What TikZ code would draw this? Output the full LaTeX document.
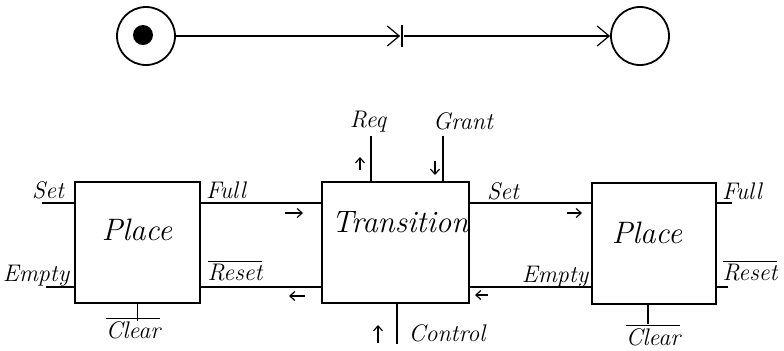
\documentclass[tikz,border=0pt]{standalone}
\usetikzlibrary{arrows.meta}

\tikzset{
  box/.style={draw, line width=1pt, inner sep=0pt},
  place/.style={circle, draw, line width=0.9pt, minimum size=29pt, inner sep=0pt},
  title/.style={font=\fontsize{15.5}{18}\selectfont\itshape},
  lbl/.style={font=\fontsize{12}{14}\selectfont\itshape, inner sep=1pt},
  flow/.style={-{Straight Barb[length=2.5pt,width=4.5pt]}, line width=0.6pt},
}

\begin{document}
\begin{tikzpicture}[x=0.5pt, y=-0.5pt, line width=0.6pt,
    >={Straight Barb[length=6pt,width=10pt]}]
    \useasboundingbox (0,0) rectangle (784,350);

    % Sieć Petriego: miejsce z żetonem, przejście, miejsce
    \node[place] (p1) at (146,36) {};
    \node[circle, fill, minimum size=10pt, inner sep=0pt] (token) at (143,35) {};
    \node[fill, minimum width=1.2pt, minimum height=11pt, inner sep=0pt] (bar) at (402,36) {};
    \node[place] (p2) at (640,36) {};
    \draw[->] (p1) -- (bar);
    \draw[->] (bar) -- (p2);

    % Bloki
    \node[box, minimum width=62.5pt, minimum height=60.5pt] (place1) at (137.5,242.5) {};
    \node[box, minimum width=73.5pt, minimum height=60.5pt] (trans) at (395.5,242.5) {};
    \node[box, minimum width=62pt, minimum height=60.5pt] (place2) at (654,243) {};
    \node[title] (t1) at (137,230) {Place};
    \node[title] (t2) at (400,222) {Transition};
    \node[title] (t3) at (647,233) {Place};

    % Poziomy linii sygnałowych
    \coordinate (r1) at (0,203);
    \coordinate (r2) at (0,287);

    % Połączenia między blokami
    \draw (place1.east |- r1) -- (trans.west |- r1);
    \draw (trans.west |- r2) -- (place1.east |- r2);
    \draw (trans.east |- r1) -- (place2.west |- r1);
    \draw (place2.west |- r2) -- (trans.east |- r2);

    % Wyprowadzenia
    \draw (place1.west |- r1) -- ++(-32,0) coordinate (set1);
    \draw (place1.west |- r2) -- ++(-28,0) coordinate (empty1);
    \draw (place1.south) -- ++(0,17) coordinate (clear1);
    \draw (trans.north -| 371,0) -- ++(0,-45) coordinate (req);
    \draw (trans.north -| 443,0) -- ++(0,-45) coordinate (grant);
    \draw (trans.south -| 397,0) -- ++(0,40) coordinate (control);
    \draw (place2.east |- r1) -- ++(15,0) coordinate (full2);
    \draw (place2.east |- r2) -- ++(11,0) coordinate (reset2);
    \draw (place2.south -| 648,0) -- ++(0,19) coordinate (clear2);

    % Kierunki sygnałów
    \draw[flow] (285,213) -- (303,213);
    \draw[flow] (305,296) -- (289,296);
    \draw[flow] (567,213) -- (582,213);
    \draw[flow] (488,295) -- (475,295);
    \draw[flow] (360,170) -- (360,157);
    \draw[flow] (435,161) -- (435,175);
    \draw[flow] (378,343) -- (378,325);

    % Opisy
    \node[lbl] at (48,190) {Set};
    \node[lbl] at (36,276) {Empty};
    \node[lbl] at (226,190) {Full};
    \node[lbl] at (235,271) {$\overline{\mbox{\itshape Reset}}$};
    \node[lbl] at (133,328) {$\overline{\mbox{\itshape Clear}}$};
    \node[lbl] at (368,122) {Req};
    \node[lbl] at (463,121) {Grant};
    \node[lbl] at (503,191) {Set};
    \node[lbl] at (447,333) {Control};
    \node[lbl] at (555,277) {Empty};
    \node[lbl] at (742,191) {Full};
    \node[lbl] at (750,271) {$\overline{\mbox{\itshape Reset}}$};
    \node[lbl] at (653,335) {$\overline{\mbox{\itshape Clear}}$};
\end{tikzpicture}
\end{document}
